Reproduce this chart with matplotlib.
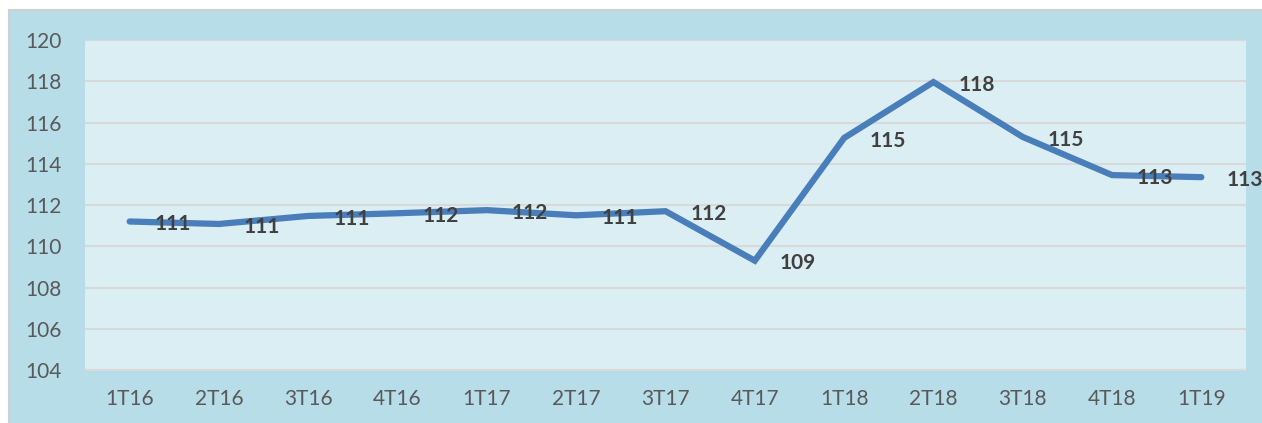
import matplotlib.pyplot as plt
from matplotlib.patches import Rectangle

quarters = ["1T16", "2T16", "3T16", "4T16", "1T17", "2T17", "3T17",
            "4T17", "1T18", "2T18", "3T18", "4T18", "1T19"]
values = [111.2, 111.08, 111.47, 111.6, 111.75, 111.5, 111.7,
          109.3, 115.25, 117.96, 115.3, 113.45, 113.35]
labels = ["111", "111", "111", "112", "112", "111", "112",
          "109", "115", "118", "115", "113", "113"]

W, H = 1262, 423
fig = plt.figure(figsize=(W / 100, H / 100), dpi=100)
fig.patch.set_facecolor("white")
fig.patches.append(Rectangle((9 / W, -0.01), 1, 1.01 - 10 / H, transform=fig.transFigure,
                             facecolor="#b7dde8", edgecolor="#d0d0d0", linewidth=1.5,
                             zorder=-10))

ax = fig.add_axes([85 / W, 53 / H, 1161 / W, 330 / H])
ax.set_facecolor("#dbeef4")
x = list(range(len(quarters)))
ax.plot(x, values, color="#4a7ebb", linewidth=4.5, solid_capstyle="round",
        solid_joinstyle="miter", zorder=3)
for i, (v, lab) in enumerate(zip(values, labels)):
    ax.annotate(lab, (i, v), xytext=(18, -2), textcoords="offset points",
                ha="left", va="center", fontsize=15, fontweight="bold",
                color="#404040", family="Lato", zorder=4)

ax.set_xlim(-0.5, len(quarters) - 0.5)
ax.set_ylim(104, 120)
ax.set_yticks(range(104, 121, 2))
ax.set_xticks(x)
ax.set_xticklabels(quarters)
ax.grid(axis="y", color="#d9d9d9", linewidth=1.5)
ax.set_axisbelow(True)
for s in ["top", "right", "left"]:
    ax.spines[s].set_visible(False)
ax.spines["bottom"].set_color("#d9d9d9")
ax.spines["bottom"].set_linewidth(1.5)
ax.tick_params(length=0, labelsize=15, labelcolor="#595959")
ax.tick_params(axis="x", pad=14)
ax.tick_params(axis="y", pad=17)
for t in ax.get_xticklabels() + ax.get_yticklabels():
    t.set_family("Lato")

fig.savefig("out.png", dpi=100, facecolor=fig.get_facecolor())
